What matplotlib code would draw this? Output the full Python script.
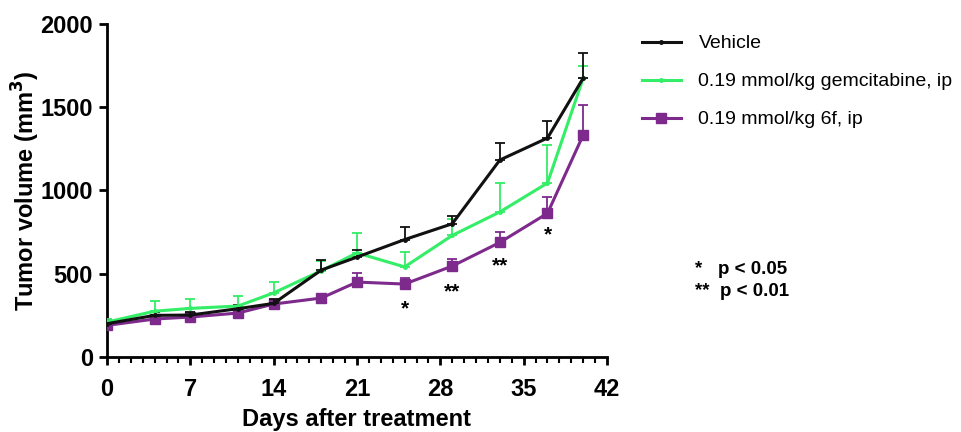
import matplotlib
matplotlib.use("Agg")
import matplotlib.pyplot as plt
from matplotlib.ticker import MultipleLocator
from matplotlib.lines import Line2D

plt.rcParams['font.family'] = ['Liberation Sans', 'DejaVu Sans']

days = [0, 4, 7, 11, 14, 18, 21, 25, 29, 33, 37, 40]
vehicle = [200, 250, 252, 290, 322, 522, 600, 705, 800, 1183, 1315, 1675]
vehicle_err = [15, 20, 20, 25, 25, 60, 40, 75, 45, 100, 100, 150]
gem = [210, 275, 292, 306, 385, 518, 625, 541, 730, 871, 1045, 1675]
gem_err = [20, 60, 55, 60, 65, 60, 120, 90, 100, 175, 230, 70]
f6 = [190, 228, 240, 264, 318, 354, 450, 438, 546, 688, 863, 1333]
f6_err = [10, 15, 15, 15, 20, 20, 55, 35, 45, 65, 100, 180]

labels = ['Vehicle', '0.19 mmol/kg gemcitabine, ip', '0.19 mmol/kg 6f, ip']
colors = ['#111111', '#33ee66', '#7d2a8c']
markers = ['.', '.', 's']
msizes = [5, 5, 7]

star_days = [25, 29, 33, 37]
star_text = ['*', '**', '**', '*']
star_vals = [290, 390, 550, 735]

fig = plt.figure(figsize=(9.62, 4.32), dpi=100)
ax = fig.add_axes([0.1112, 0.1736, 0.5198, 0.771])

series = [vehicle, gem, f6]
errs = [vehicle_err, gem_err, f6_err]
handles = []
for i in range(3):
    ax.errorbar(days, series[i], yerr=[[0]*len(days), errs[i]], color=colors[i],
                lw=2.2, marker=markers[i], ms=msizes[i], elinewidth=1.3,
                capsize=3.5, capthick=1.3, zorder=3 - i * 0.1)
    handles.append(Line2D([], [], color=colors[i], lw=2.2, marker=markers[i],
                          ms=msizes[i], label=labels[i]))

for d, t, v in zip(star_days, star_text, star_vals):
    ax.text(d, v, t, ha='center', va='center', fontsize=15, fontweight='bold')

ax.set_xlim(0, 42)
ax.set_ylim(0, 2000)
ax.xaxis.set_major_locator(MultipleLocator(7))
ax.xaxis.set_minor_locator(MultipleLocator(1))
ax.yaxis.set_major_locator(MultipleLocator(500))
for s in ['top', 'right']:
    ax.spines[s].set_visible(False)
for s in ['left', 'bottom']:
    ax.spines[s].set_linewidth(2)
ax.tick_params(axis='both', which='major', width=2, length=6, labelsize=17)
ax.tick_params(axis='x', which='major', pad=9)
ax.tick_params(axis='y', which='major', pad=4)
ax.tick_params(axis='x', which='minor', width=1.5, length=4)
for lbl in ax.get_xticklabels() + ax.get_yticklabels():
    lbl.set_fontweight('bold')
ax.set_xlabel('Days after treatment', fontsize=17, fontweight='bold', labelpad=5)
ax.set_ylabel('Tumor volume (mm$^\\mathbf{3}$)', fontsize=17, fontweight='bold')
ax.yaxis.set_label_coords(-0.13, 0.5)

leg = ax.legend(handles=handles, loc='upper left', bbox_to_anchor=(1.035, 1.02), frameon=False,
                fontsize=14, handlelength=2.0, labelspacing=1.05, handletextpad=0.9)

fig.text(0.722, 0.375, '*   p < 0.05', fontsize=13.5, fontweight='bold', va='center')
fig.text(0.722, 0.326, '**  p < 0.01', fontsize=13.5, fontweight='bold', va='center')

fig.savefig('out.png', dpi=100)
